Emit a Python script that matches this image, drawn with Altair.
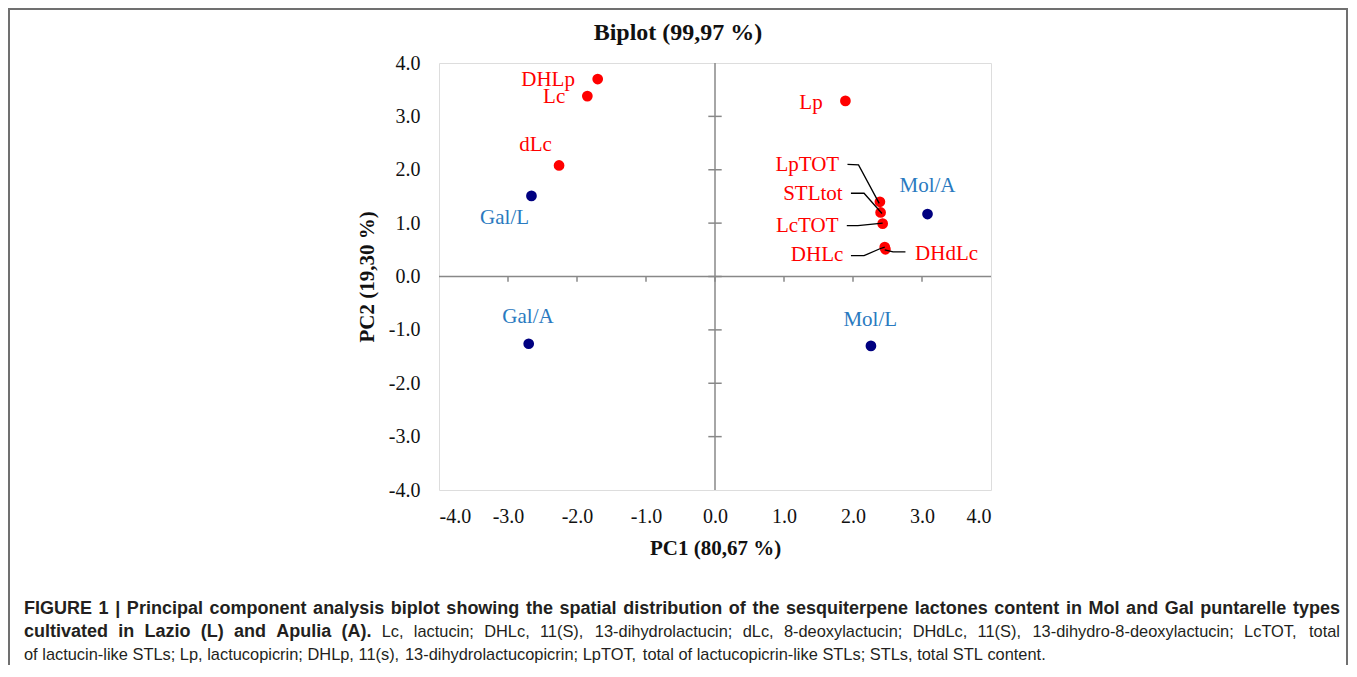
import altair as alt
import pandas as pd

# ---------------- data ----------------
# Scores (samples)
sample_names = ["Gal/L", "Gal/A", "Mol/A", "Mol/L"]
sample_pc1 = [-2.66, -2.70, 3.08, 2.26]
sample_pc2 = [1.51, -1.26, 1.17, -1.30]
sample_label_pc1 = [-3.05, -2.71, 3.08, 2.25]
sample_label_pc2 = [1.09, -0.76, 1.69, -0.81]

# Loadings (variables)
var_names = ["DHLp", "Lc", "dLc", "Lp", "LpTOT", "STLtot", "LcTOT", "DHLc", "DHdLc"]
var_pc1 = [-1.70, -1.85, -2.26, 1.89, 2.39, 2.40, 2.43, 2.46, 2.47]
var_pc2 = [3.70, 3.38, 2.08, 3.29, 1.40, 1.20, 0.99, 0.55, 0.51]
var_label_pc1 = [-2.03, -2.17, -2.60, 1.56, 1.80, 1.85, 1.79, 1.86, 2.90]
var_label_pc2 = [3.68, 3.36, 2.47, 3.25, 2.09, 1.55, 0.95, 0.41, 0.43]
var_label_side = ["right", "right", "center", "right", "right", "right", "right", "right", "left"]

# Leader lines (label -> point)
leader_name = ["LpTOT"] * 3 + ["STLtot"] * 3 + ["LcTOT"] * 3 + ["DHLc"] * 4 + ["DHdLc"] * 3
leader_pc1 = [1.92, 2.08, 2.38, 1.97, 2.16, 2.42, 1.91, 2.07, 2.43,
              1.97, 2.16, 2.39, 2.46, 2.46, 2.58, 2.76]
leader_pc2 = [2.10, 2.09, 1.37, 1.56, 1.56, 1.18, 0.955, 0.955, 1.00,
              0.39, 0.39, 0.52, 0.55, 0.50, 0.46, 0.46]

tick_values = [-4, -3, -2, -1, 0, 1, 2, 3, 4]
inner_ticks = [-3, -2, -1, 0, 1, 2, 3]

title_text = "Biplot (99,97 %)"
x_title = "PC1 (80,67 %)"
y_title = "PC2  (19,30 %)"

caption_line1 = ("FIGURE 1 | Principal component analysis biplot showing the spatial distribution "
                 "of the sesquiterpene lactones content in Mol and Gal puntarelle types")
caption_line2_bold = "cultivated in Lazio (L) and Apulia (A)."
caption_line2 = ("Lc, lactucin; DHLc, 11(S), 13-dihydrolactucin; dLc, 8-deoxylactucin; DHdLc, 11(S), "
                 "13-dihydro-8-deoxylactucin; LcTOT, total")
caption_line3 = ("of lactucin-like STLs; Lp, lactucopicrin; DHLp, 11(s), 13-dihydrolactucopicrin; "
                 "LpTOT, total of lactucopicrin-like STLs; STLs, total STL content.")

# ---------------- layout constants ----------------
W, H = 552, 427
PAD_L, PAD_T = 431, 55
SERIF = "Liberation Serif"
SANS = "Liberation Sans"
GRID = "#888888"
RED = "#ff0000"
NAVY = "#000080"
BLUE = "#2a7ac0"
CAP = "#231f20"

# Arial / Liberation Sans advance widths (1/1000 em) for caption justification
_REG = {" ": 278, "(": 333, ")": 333, ",": 278, "-": 333, ".": 278, "/": 278, ":": 278,
        ";": 278, "|": 260}
_BOLD = {" ": 278, "(": 333, ")": 333, ",": 278, "-": 333, ".": 278, "/": 278, ":": 333,
         ";": 333, "|": 280}
for d in "0123456789":
    _REG[d] = 556
    _BOLD[d] = 556
_UP = dict(zip("ABCDEFGHIJKLMNOPQRSTUVWXYZ",
               [667, 667, 722, 722, 667, 611, 778, 722, 278, 500, 667, 556, 833, 722, 778, 667,
                778, 722, 667, 611, 722, 667, 944, 667, 667, 611]))
_UPB = dict(zip("ABCDEFGHIJKLMNOPQRSTUVWXYZ",
                [722, 722, 722, 722, 667, 611, 778, 722, 278, 556, 722, 611, 833, 722, 778, 667,
                 778, 722, 667, 611, 722, 667, 944, 667, 667, 611]))
_LO = dict(zip("abcdefghijklmnopqrstuvwxyz",
               [556, 556, 500, 556, 556, 278, 556, 556, 222, 222, 500, 222, 833, 556, 556, 556,
                556, 333, 500, 278, 556, 500, 722, 500, 500, 500]))
_LOB = dict(zip("abcdefghijklmnopqrstuvwxyz",
                [556, 611, 556, 611, 556, 333, 611, 611, 278, 278, 556, 278, 889, 611, 611, 611,
                 611, 389, 556, 333, 611, 556, 778, 556, 556, 500]))
_REG.update(_UP); _REG.update(_LO)
_BOLD.update(_UPB); _BOLD.update(_LOB)

BOLD_SIZE, REG_SIZE = 18, 16.4
CAP_LEFT, CAP_RIGHT = 24, 1340


def text_w(s, bold):
    table = _BOLD if bold else _REG
    size = BOLD_SIZE if bold else REG_SIZE
    return sum(table.get(ch, 556) for ch in s) / 1000.0 * size


def layout_line(tokens, page_y, justify):
    words = [(w, b) for w, b in tokens]
    widths = [text_w(w, b) for w, b in words]
    if justify and len(words) > 1:
        gap = (CAP_RIGHT - CAP_LEFT - sum(widths)) / (len(words) - 1)
    else:
        gap = text_w(" ", False)
    rows, x = [], CAP_LEFT
    for (w, b), wd in zip(words, widths):
        rows.append({"word": w, "bold": b,
                     "cx": (x - 8 - PAD_L) / (W / 8.0) - 4,
                     "cy": 4 - (page_y - 8 - PAD_T) / (H / 8.0)})
        x += wd + gap
    return rows


cap_rows = []
cap_rows += layout_line([(w, True) for w in caption_line1.split(" ")], 609, True)
cap_rows += layout_line([(w, True) for w in caption_line2_bold.split(" ")]
                        + [(w, False) for w in caption_line2.split(" ")], 632, True)
cap_rows += layout_line([(w, False) for w in caption_line3.split(" ")], 655, False)
caption = pd.DataFrame(cap_rows)

# ---------------- tables ----------------
samples = pd.DataFrame({"name": sample_names, "pc1": sample_pc1, "pc2": sample_pc2,
                        "lx": sample_label_pc1, "ly": sample_label_pc2})
variables = pd.DataFrame({"name": var_names, "pc1": var_pc1, "pc2": var_pc2,
                          "lx": var_label_pc1, "ly": var_label_pc2, "side": var_label_side})
leaders = pd.DataFrame({"name": leader_name, "pc1": leader_pc1, "pc2": leader_pc2,
                        "i": list(range(len(leader_name)))})
ticks_df = pd.DataFrame({"v": inner_ticks})
one = pd.DataFrame({"a": [0]})

xs = alt.Scale(domain=[-4, 4], nice=False, zero=False)
ys = alt.Scale(domain=[-4, 4], nice=False, zero=False)

label_expr = "(datum.value < 0 ? '-' : '') + format(abs(datum.value), '.1f')"

x_axis = alt.Axis(values=tick_values, labelExpr=label_expr, domain=False, ticks=False, tickSize=0,
                  grid=False, labelFont=SERIF, labelFontSize=20, labelColor="#111111",
                  labelPadding=16, title=x_title, titleFont=SERIF, titleFontSize=21,
                  titleFontWeight="bold", titleColor="#111111", titleX=W / 2, titleY=58,
                  titleBaseline="middle")
y_axis = alt.Axis(values=tick_values, labelExpr=label_expr, domain=False, ticks=False, tickSize=0,
                  grid=False, labelFont=SERIF, labelFontSize=20, labelColor="#111111",
                  labelPadding=19, title=y_title, titleFont=SERIF, titleFontSize=21,
                  titleFontWeight="bold", titleColor="#111111", titleX=-72, titleY=H / 2,
                  titleBaseline="middle", titleAngle=-90, titleAlign="center")

# zero lines
vzero = alt.Chart(one).mark_rule(color=GRID, strokeWidth=1.5).encode(
    x=alt.datum(0, scale=xs, axis=x_axis, type="quantitative"),
    y=alt.datum(-4, scale=ys, axis=y_axis, type="quantitative"),
    y2=alt.datum(4),
)
hzero = alt.Chart(one).mark_rule(color=GRID, strokeWidth=1.5).encode(
    x=alt.datum(-4, type="quantitative"), x2=alt.datum(4),
    y=alt.datum(0, type="quantitative"),
)
# tick marks on the zero lines
ytick_marks = alt.Chart(ticks_df).mark_rule(color=GRID, strokeWidth=1.5).encode(
    x=alt.datum(-0.097, type="quantitative"), x2=alt.datum(0.097),
    y=alt.Y("v:Q"),
)
xtick_marks = alt.Chart(ticks_df).mark_rule(color=GRID, strokeWidth=1.5).encode(
    x=alt.X("v:Q"),
    y=alt.datum(0, type="quantitative"), y2=alt.datum(-0.1),
)

sample_pts = alt.Chart(samples).mark_circle(size=115, opacity=1, color=NAVY).encode(
    x="pc1:Q", y="pc2:Q")
var_pts = alt.Chart(variables).mark_circle(size=115, opacity=1, color=RED).encode(
    x="pc1:Q", y="pc2:Q")

leader_lines = alt.Chart(leaders).mark_line(color="black", strokeWidth=1.3).encode(
    x="pc1:Q", y="pc2:Q", detail="name:N", order="i:Q")

sample_text = alt.Chart(samples).mark_text(font=SERIF, fontSize=21, color=BLUE,
                                            align="center", baseline="middle").encode(
    x="lx:Q", y="ly:Q", text="name:N")

var_text_layers = []
for side in ["right", "center", "left"]:
    var_text_layers.append(
        alt.Chart(variables).transform_filter(alt.datum.side == side)
        .mark_text(font=SERIF, fontSize=21, color=RED, align=side, baseline="middle")
        .encode(x="lx:Q", y="ly:Q", text="name:N")
    )

# chart title
title_mark = alt.Chart(one).mark_text(font=SERIF, fontSize=24, fontWeight="bold", color="#111111",
                                      align="center", baseline="middle").encode(
    x=alt.value(239), y=alt.value(-30), text=alt.value(title_text))

# outer frame of the figure
frame = alt.Chart(one).mark_rect(fillOpacity=0, stroke="#707070", strokeWidth=2).encode(
    x=alt.value(-430), x2=alt.value(908), y=alt.value(-54), y2=alt.value(640))

cap_bold = alt.Chart(caption).transform_filter(alt.datum.bold == True).mark_text(
    font=SANS, fontSize=BOLD_SIZE, fontWeight="bold", color=CAP, align="left", baseline="middle"
).encode(x="cx:Q", y="cy:Q", text="word:N")
cap_reg = alt.Chart(caption).transform_filter(alt.datum.bold == False).mark_text(
    font=SANS, fontSize=REG_SIZE, color=CAP, align="left", baseline="middle"
).encode(x="cx:Q", y="cy:Q", text="word:N")

chart = alt.layer(
    vzero, hzero, ytick_marks, xtick_marks, sample_pts, var_pts, leader_lines,
    sample_text, *var_text_layers, title_mark, frame, cap_bold, cap_reg
).properties(
    width=W, height=H,
    autosize=alt.AutoSizeParams(type="none"),
    padding={"left": PAD_L, "top": PAD_T, "right": 358, "bottom": 175},
).configure_view(stroke=GRID, strokeWidth=2).configure(background="white")

chart.save("out.html", embed_options={"renderer": "svg", "actions": False})
